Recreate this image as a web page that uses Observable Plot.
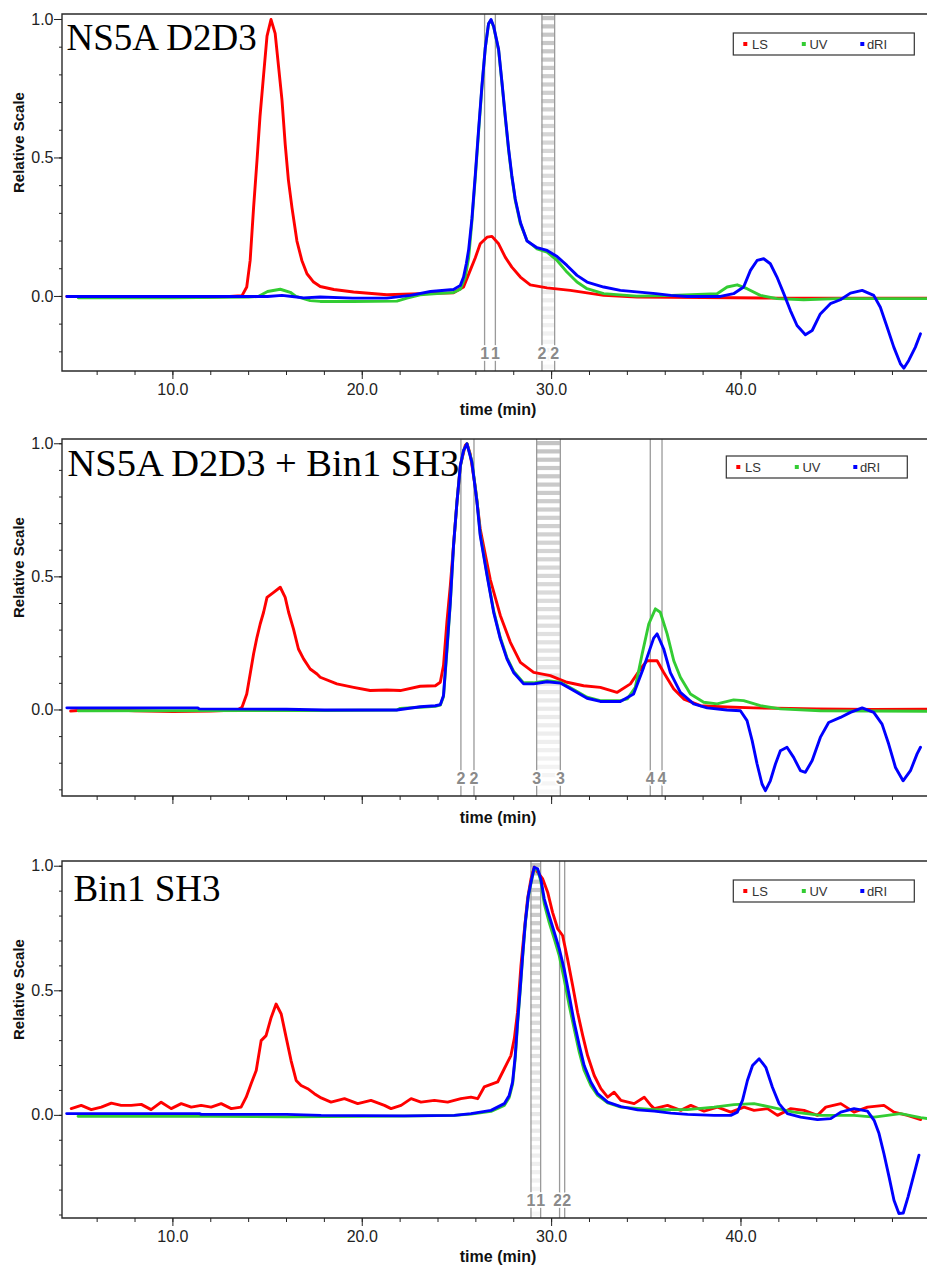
<!DOCTYPE html>
<html><head><meta charset="utf-8">
<script src="https://cdn.jsdelivr.net/npm/d3@7"></script>
<script src="https://cdn.jsdelivr.net/npm/@observablehq/plot@0.6"></script>
<style>body{margin:0;background:#fff} svg{display:block}</style>
</head><body><div id="chart"></div>
<script>
// ---------- data (time in min, relative scale) ----------
const seriesNames = ["LS", "UV", "dRI"];
const seriesColors = ["#ff0000", "#33cc33", "#0000ff"];
const xMajorTicks = [10, 20, 30, 40];
const yMajorTicks = [0, 0.5, 1.0];

// Panel 1: NS5A D2D3
const p1_title = "NS5A D2D3";
const p1_LS = [[4.4,0],[8,0],[11,-0.004],[13,0],[13.65,0.003],[13.9,0.034],[14.08,0.13],[14.26,0.32],[14.44,0.49],[14.6,0.65],[14.79,0.8],[14.97,0.94],[15.18,1.0],[15.4,0.95],[15.58,0.83],[15.76,0.71],[15.93,0.55],[16.1,0.42],[16.29,0.32],[16.55,0.2],[16.81,0.13],[17.08,0.082],[17.43,0.052],[17.78,0.036],[18.5,0.025],[19.54,0.016],[21.3,0.006],[23.06,0.01],[24.82,0.013],[25.35,0.034],[25.7,0.094],[25.97,0.14],[26.23,0.19],[26.59,0.214],[26.85,0.217],[27.2,0.19],[27.55,0.142],[27.9,0.106],[28.35,0.07],[28.87,0.042],[29.76,0.031],[30.99,0.022],[32.75,0.004],[34.51,-0.002],[38,-0.004],[42,-0.006],[46,-0.006],[49.8,-0.006]];
const p1_UV = [[5,-0.005],[10,-0.005],[14,-0.002],[14.5,0.0],[15.0,0.018],[15.67,0.026],[16.2,0.015],[16.5,0.0],[16.9,-0.008],[17.25,-0.015],[17.78,-0.018],[19.5,-0.018],[21.83,-0.017],[22.36,-0.006],[23.06,0.006],[23.95,0.01],[24.82,0.014],[25.18,0.026],[25.44,0.07],[25.62,0.14],[25.79,0.27],[25.97,0.43],[26.14,0.59],[26.32,0.756],[26.5,0.9],[26.67,0.985],[26.8,0.997],[26.94,0.973],[27.2,0.889],[27.38,0.768],[27.55,0.648],[27.73,0.527],[27.9,0.431],[28.08,0.347],[28.35,0.263],[28.7,0.202],[29.23,0.172],[29.76,0.16],[30.29,0.13],[30.81,0.088],[31.34,0.052],[31.87,0.028],[32.75,0.01],[34.5,0.001],[36,0.003],[38.74,0.01],[39.27,0.034],[39.8,0.042],[40.32,0.028],[41.02,0.004],[41.9,-0.008],[43.31,-0.012],[45.08,-0.008],[49.8,-0.008]];
const p1_dRI = [[4.4,0],[10,0],[15,0.0],[15.76,0.004],[16.3,0.0],[16.9,-0.005],[17.78,-0.002],[19.5,-0.006],[21.3,-0.006],[22.54,0.004],[23.6,0.018],[24.82,0.025],[25.18,0.04],[25.35,0.07],[25.5,0.12],[25.62,0.17],[25.79,0.28],[25.97,0.44],[26.14,0.6],[26.32,0.76],[26.5,0.9],[26.67,0.985],[26.8,1.0],[26.94,0.975],[27.2,0.892],[27.38,0.772],[27.55,0.652],[27.73,0.532],[27.9,0.436],[28.08,0.352],[28.35,0.268],[28.7,0.2],[29.23,0.176],[29.76,0.166],[30.29,0.144],[30.81,0.112],[31.34,0.076],[31.87,0.052],[32.75,0.034],[33.63,0.022],[35.5,0.01],[36.3,0.004],[37.15,0],[38.91,0],[39.61,0.01],[40.14,0.034],[40.5,0.094],[40.85,0.13],[41.2,0.136],[41.55,0.118],[41.9,0.07],[42.26,0.01],[42.61,-0.051],[42.96,-0.105],[43.4,-0.138],[43.76,-0.123],[44.19,-0.063],[44.72,-0.026],[45.25,-0.012],[45.78,0.012],[46.4,0.022],[47.01,0.004],[47.36,-0.039],[47.72,-0.111],[48.07,-0.183],[48.42,-0.243],[48.6,-0.259],[48.86,-0.231],[49.21,-0.183],[49.48,-0.135]];
const p1_markerTimes = [26.46, 27.03, 29.49, 30.16];
const p1_markerLabels = ["1", "1", "2", "2"];
const p1_band = [29.49, 30.16];

// Panel 2: NS5A D2D3 + Bin1 SH3
const p2_title = "NS5A D2D3 + Bin1 SH3";
const p2_LS = [[4.6,-0.004],[6,0.003],[8,-0.003],[10,-0.006],[12,-0.004],[13.4,0.0],[13.65,0.01],[13.9,0.06],[14.08,0.135],[14.26,0.21],[14.44,0.273],[14.61,0.323],[14.79,0.367],[14.97,0.423],[15.32,0.442],[15.67,0.461],[15.93,0.423],[16.11,0.367],[16.37,0.304],[16.63,0.229],[16.9,0.192],[17.25,0.154],[17.61,0.135],[17.78,0.123],[18.66,0.098],[19.54,0.085],[20.42,0.073],[21.3,0.075],[22.01,0.073],[23.06,0.089],[23.86,0.091],[24.12,0.104],[24.29,0.167],[24.47,0.33],[24.65,0.467],[24.82,0.618],[25.0,0.78],[25.18,0.918],[25.44,0.994],[25.53,1.0],[25.7,0.962],[25.97,0.837],[26.23,0.68],[26.76,0.49],[27.29,0.355],[27.82,0.254],[28.35,0.179],[29.05,0.141],[29.93,0.129],[30.81,0.104],[31.69,0.091],[32.57,0.085],[33.45,0.066],[34.16,0.098],[34.69,0.154],[35.04,0.185],[35.57,0.185],[35.92,0.141],[36.45,0.079],[36.98,0.041],[37.86,0.016],[38.91,0.012],[40.67,0.008],[44,0.004],[47,0.002],[49.8,0.003]];
const p2_UV = [[5,-0.003],[18,-0.002],[21.83,0],[22,0.006],[23.06,0.01],[23.86,0.014],[24.12,0.018],[24.29,0.05],[24.47,0.22],[24.65,0.4],[24.82,0.615],[25,0.78],[25.18,0.915],[25.35,0.975],[25.53,1.0],[25.79,0.935],[26.06,0.785],[26.23,0.662],[26.59,0.51],[26.94,0.372],[27.29,0.272],[27.64,0.197],[27.99,0.146],[28.52,0.102],[29.05,0.102],[29.76,0.11],[30.46,0.104],[31.16,0.077],[31.87,0.048],[32.57,0.035],[33.63,0.035],[34.0,0.042],[34.42,0.085],[34.78,0.21],[35.13,0.323],[35.48,0.38],[35.74,0.367],[36.1,0.286],[36.45,0.185],[36.8,0.123],[37.33,0.06],[38.03,0.029],[38.74,0.023],[39.61,0.038],[40.14,0.035],[41.02,0.016],[42.08,0.004],[44.19,-0.003],[49.8,-0.005]];
const p2_dRI = [[4.4,0.008],[11.3,0.008],[11.4,0.004],[16,0.003],[18,0],[21.83,0],[23.06,0.012],[23.86,0.016],[24.12,0.02],[24.29,0.054],[24.47,0.229],[24.65,0.405],[24.82,0.618],[25,0.78],[25.18,0.918],[25.35,0.975],[25.53,1.0],[25.79,0.93],[26.06,0.78],[26.23,0.655],[26.59,0.505],[26.94,0.367],[27.29,0.267],[27.64,0.192],[27.99,0.141],[28.52,0.098],[29.05,0.098],[29.76,0.106],[30.46,0.101],[31.16,0.073],[31.87,0.044],[32.57,0.032],[33.63,0.032],[34.33,0.06],[34.86,0.16],[35.39,0.27],[35.57,0.286],[35.92,0.229],[36.27,0.14],[36.8,0.066],[37.5,0.023],[38.21,0.008],[39.26,0],[39.97,-0.003],[40.32,-0.04],[40.59,-0.115],[40.85,-0.203],[41.11,-0.278],[41.29,-0.303],[41.55,-0.266],[41.82,-0.203],[42.08,-0.153],[42.43,-0.14],[42.78,-0.178],[43.14,-0.228],[43.4,-0.234],[43.76,-0.19],[44.19,-0.103],[44.63,-0.047],[45.25,-0.028],[45.78,-0.009],[46.4,0.008],[47.01,-0.009],[47.45,-0.053],[47.8,-0.128],[48.16,-0.216],[48.56,-0.266],[48.95,-0.228],[49.3,-0.165],[49.48,-0.14]];
const p2_markerTimes = [25.21, 25.9, 29.21, 30.46, 35.21, 35.83];
const p2_markerLabels = ["2", "2", "3", "3", "4", "4"];
const p2_band = [29.21, 30.46];

// Panel 3: Bin1 SH3
const p3_title = "Bin1 SH3";
const p3_LS = [[4.63,0.027],[5.16,0.04],[5.69,0.023],[6.22,0.033],[6.75,0.049],[7.27,0.04],[7.8,0.04],[8.33,0.044],[8.85,0.023],[9.38,0.053],[9.91,0.027],[10.44,0.047],[10.97,0.033],[11.49,0.04],[12.02,0.033],[12.55,0.047],[13.08,0.027],[13.6,0.033],[13.87,0.073],[14.13,0.127],[14.4,0.18],[14.66,0.3],[14.92,0.32],[15.19,0.393],[15.45,0.447],[15.72,0.407],[15.98,0.313],[16.24,0.22],[16.51,0.14],[16.77,0.12],[17.12,0.107],[17.47,0.087],[17.83,0.07],[18.35,0.053],[19.06,0.067],[19.76,0.047],[20.46,0.06],[21.17,0.04],[21.52,0.027],[22.05,0.04],[22.58,0.067],[23.1,0.053],[23.81,0.06],[24.51,0.053],[25.21,0.067],[25.74,0.073],[26.1,0.067],[26.44,0.114],[27.15,0.134],[27.5,0.187],[27.85,0.24],[28.03,0.308],[28.2,0.414],[28.38,0.6],[28.55,0.735],[28.73,0.869],[28.91,0.949],[29.08,0.996],[29.26,0.976],[29.53,0.949],[29.79,0.896],[30.05,0.815],[30.32,0.749],[30.58,0.722],[30.84,0.628],[31.11,0.521],[31.37,0.414],[31.64,0.321],[31.9,0.24],[32.25,0.16],[32.6,0.107],[32.96,0.073],[33.3,0.093],[33.66,0.06],[34.36,0.047],[34.89,0.073],[35.24,0.04],[35.42,0.027],[36.12,0.04],[36.82,0.02],[37.35,0.04],[38.05,0.017],[38.76,0.033],[39.46,0.013],[40.16,0.033],[40.69,0.02],[41.4,0.027],[41.93,0],[42.63,0.027],[43.33,0.02],[44.04,0],[44.48,0.033],[45.27,0.047],[45.97,0.013],[46.68,0.033],[47.55,0.04],[48.08,0.013],[48.79,0],[49.49,-0.017]];
const p3_UV = [[4.99,-0.004],[12,-0.004],[16,-0.006],[20,-0.004],[22.2,-0.003],[24.86,0],[25.74,0.005],[26.8,0.016],[27.5,0.04],[27.76,0.072],[27.94,0.125],[28.08,0.23],[28.2,0.365],[28.34,0.5],[28.47,0.635],[28.61,0.77],[28.77,0.878],[28.91,0.932],[29.08,0.99],[29.26,0.985],[29.43,0.94],[29.61,0.85],[29.87,0.775],[30.14,0.709],[30.4,0.642],[30.66,0.548],[30.93,0.441],[31.19,0.348],[31.46,0.254],[31.72,0.18],[32.07,0.12],[32.43,0.08],[32.96,0.05],[33.66,0.033],[35.42,0.023],[37.18,0.023],[38.58,0.033],[39.63,0.043],[40.69,0.047],[41.57,0.033],[42.8,0.013],[44.21,0],[45.97,0],[47.03,-0.007],[48.43,0.007],[49.49,-0.009],[49.84,-0.013]];
const p3_dRI = [[4.39,0.007],[11.4,0.007],[11.5,0.004],[16,0.004],[17.83,0],[22.22,-0.002],[24.86,0],[25.74,0.007],[26.8,0.02],[27.5,0.047],[27.76,0.08],[27.94,0.134],[28.08,0.24],[28.2,0.374],[28.34,0.508],[28.47,0.642],[28.61,0.775],[28.77,0.882],[28.91,0.936],[29.08,0.996],[29.26,0.99],[29.43,0.949],[29.61,0.869],[29.87,0.802],[30.14,0.735],[30.4,0.669],[30.66,0.588],[30.93,0.481],[31.19,0.374],[31.46,0.281],[31.72,0.2],[32.07,0.134],[32.43,0.087],[32.96,0.053],[33.66,0.035],[34.54,0.022],[35.42,0.017],[36.3,0.009],[37.18,0.004],[38.58,0],[39.46,0],[39.81,0.013],[40.08,0.06],[40.34,0.14],[40.61,0.2],[40.96,0.227],[41.31,0.193],[41.66,0.113],[42.01,0.047],[42.45,0.007],[43.15,-0.007],[44.04,-0.017],[44.74,-0.013],[45.27,0.013],[45.97,0.027],[46.68,0.017],[47.03,-0.02],[47.29,-0.073],[47.55,-0.154],[47.82,-0.247],[48.08,-0.341],[48.34,-0.394],[48.57,-0.392],[48.82,-0.328],[49.1,-0.247],[49.4,-0.16]];
const p3_markerTimes = [28.91, 29.42, 30.42, 30.69];
const p3_markerLabels = ["1", "1", "2", "2"];
const p3_band = [28.91, 29.42];

// ---------- helper marks ----------
function frameMark() {
  return (index, scales, values, d) => {
    return d3.create("svg:path")
      .attr("d", `M${d.width},${d.marginTop}H${d.marginLeft}V${d.height - d.marginBottom}H${d.width}`)
      .attr("fill", "none").attr("stroke", "#2a2a2a").attr("stroke-width", 1.4).node();
  };
}
function stripeMark(band) {
  return (index, {x}, values, d) => {
    const g = d3.create("svg:g");
    const top = d.marginTop, bottom = d.height - d.marginBottom;
    const xa = x(band[0]), xb = x(band[1]);
    const col = d3.interpolateRgb("#c4c4c4", "#f7f7f7");
    for (let y = top + 2; y < bottom - 2; y += 8.3) {
      g.append("rect").attr("x", xa).attr("width", xb - xa).attr("y", y).attr("height", 4.2)
        .attr("fill", col((y - top) / (bottom - top)));
    }
    return g.node();
  };
}
function legendMark(top, right) {
  return (index, scales, values, d) => {
    const g = d3.create("svg:g");
    const x1 = d.width - right, x0 = x1 - 181, y0 = d.marginTop + top;
    g.append("rect").attr("x", x0).attr("y", y0).attr("width", 181).attr("height", 22)
      .attr("fill", "white").attr("stroke", "#333").attr("stroke-width", 1.2);
    seriesNames.forEach((name, i) => {
      const cx = x0 + 12 + i * 58.5;
      g.append("rect").attr("x", cx - 2).attr("y", y0 + 9).attr("width", 4).attr("height", 4).attr("fill", seriesColors[i]);
      g.append("text").attr("x", cx + 14.7).attr("y", y0 + 11).attr("dy", "0.35em")
        .attr("font-size", 13).attr("font-family", "Liberation Sans, Arial, sans-serif").attr("fill", "#333").text(name);
    });
    return g.node();
  };
}

const fmt = d3.format(".1f");

function markerLabelMarks(times, labels) {
  // pairs of markers closer than ~0.42 min are labelled side by side instead of centred
  const anchor = times.map(() => "middle");
  for (let i = 0; i + 1 < times.length; i += 2) {
    if (times[i + 1] - times[i] < 0.42) { anchor[i] = "end"; anchor[i + 1] = "start"; }
  }
  const common = {x: d => d, text: (d, i) => labels[i], frameAnchor: "bottom", lineAnchor: "middle", dy: -18,
    fill: "#8a8a8a", fontWeight: "bold", fontSize: 16, stroke: "white", strokeWidth: 3.5};
  return [
    Plot.text(times, {...common, filter: (d, i) => anchor[i] === "middle"}),
    Plot.text(times, {...common, filter: (d, i) => anchor[i] === "end", textAnchor: "end", dx: 2.5}),
    Plot.text(times, {...common, filter: (d, i) => anchor[i] === "start", textAnchor: "start", dx: -2.5})
  ];
}

function panel(cfg) {
  const series = [cfg.LS, cfg.UV, cfg.dRI];
  const yMinor = d3.range(-4, 11).map(k => k / 10).filter(v => v >= cfg.yDomain[0] && v <= cfg.yDomain[1]);
  return Plot.plot({
    width: 927,
    height: cfg.height,
    marginLeft: 62,
    marginRight: 0,
    marginTop: cfg.marginTop,
    marginBottom: cfg.marginBottom,
    style: {fontFamily: "Liberation Sans, Arial, sans-serif", fontSize: "15px", color: "#222", background: "white"},
    x: {domain: [4.17, 49.85]},
    y: {domain: cfg.yDomain},
    marks: [
      stripeMark(cfg.band),
      Plot.ruleX(cfg.markerTimes, {x: d => d, stroke: "#9a9a9a", strokeWidth: 1.3}),
      ...series.map((s, i) => Plot.line(s, {x: d => d[0], y: d => d[1], stroke: seriesColors[i], strokeWidth: 2.9, strokeLinejoin: "round", clip: true})),
      ...markerLabelMarks(cfg.markerTimes, cfg.markerLabels),
      frameMark(),
      Plot.axisX({ticks: d3.range(6, 50, 2), tickSize: 4, tickFormat: () => "", label: null}),
      Plot.axisX({ticks: xMajorTicks, tickSize: 8, tickPadding: 4, tickFormat: cfg.xLabels ? fmt : () => "", label: null, fontSize: 16}),
      Plot.axisY({ticks: yMinor, tickSize: 3, tickFormat: () => "", label: null}),
      Plot.axisY({ticks: yMajorTicks, tickSize: 8, tickPadding: 1, tickFormat: fmt, label: null, fontSize: 16}),
      Plot.text(["Relative Scale"], {frameAnchor: "left", lineAnchor: "middle", rotate: -90, dx: -43, fontWeight: "bold", fontSize: 15, fill: "#111"}),
      Plot.text(["time (min)"], {frameAnchor: "bottom", lineAnchor: "middle", dx: 3, dy: cfg.xTitleDy, fontWeight: "bold", fontSize: 16, fill: "#111"}),
      Plot.text([cfg.title], {frameAnchor: "top-left", textAnchor: "start", lineAnchor: "bottom", dx: cfg.titleDx, dy: cfg.titleDy,
        fontFamily: "Liberation Serif, Times New Roman, serif", fontSize: cfg.titleSize, fill: "#000"}),
      legendMark(cfg.legendTop, cfg.legendRight)
    ]
  });
}

const chart = document.getElementById("chart");
chart.append(panel({title: p1_title, LS: p1_LS, UV: p1_UV, dRI: p1_dRI, markerTimes: p1_markerTimes, markerLabels: p1_markerLabels, band: p1_band,
  height: 420, marginTop: 14, marginBottom: 49, yDomain: [-0.271, 1.018], xLabels: true, xTitleDy: 38, titleDx: 4, titleDy: 35, titleSize: 37, legendTop: 19, legendRight: 12.7}));
chart.append(panel({title: p2_title, LS: p2_LS, UV: p2_UV, dRI: p2_dRI, markerTimes: p2_markerTimes, markerLabels: p2_markerLabels, band: p2_band,
  height: 420, marginTop: 19, marginBottom: 44, yDomain: [-0.325, 1.016], xLabels: false, xTitleDy: 21, titleDx: 5, titleDy: 36, titleSize: 38.5, legendTop: 17, legendRight: 19.7}));
chart.append(panel({title: p3_title, LS: p3_LS, UV: p3_UV, dRI: p3_dRI, markerTimes: p3_markerTimes, markerLabels: p3_markerLabels, band: p3_band,
  height: 428, marginTop: 21, marginBottom: 50, yDomain: [-0.414, 1.019], xLabels: true, xTitleDy: 38, titleDx: 11, titleDy: 39, titleSize: 37, legendTop: 19, legendRight: 12.7}));
</script></body></html>
